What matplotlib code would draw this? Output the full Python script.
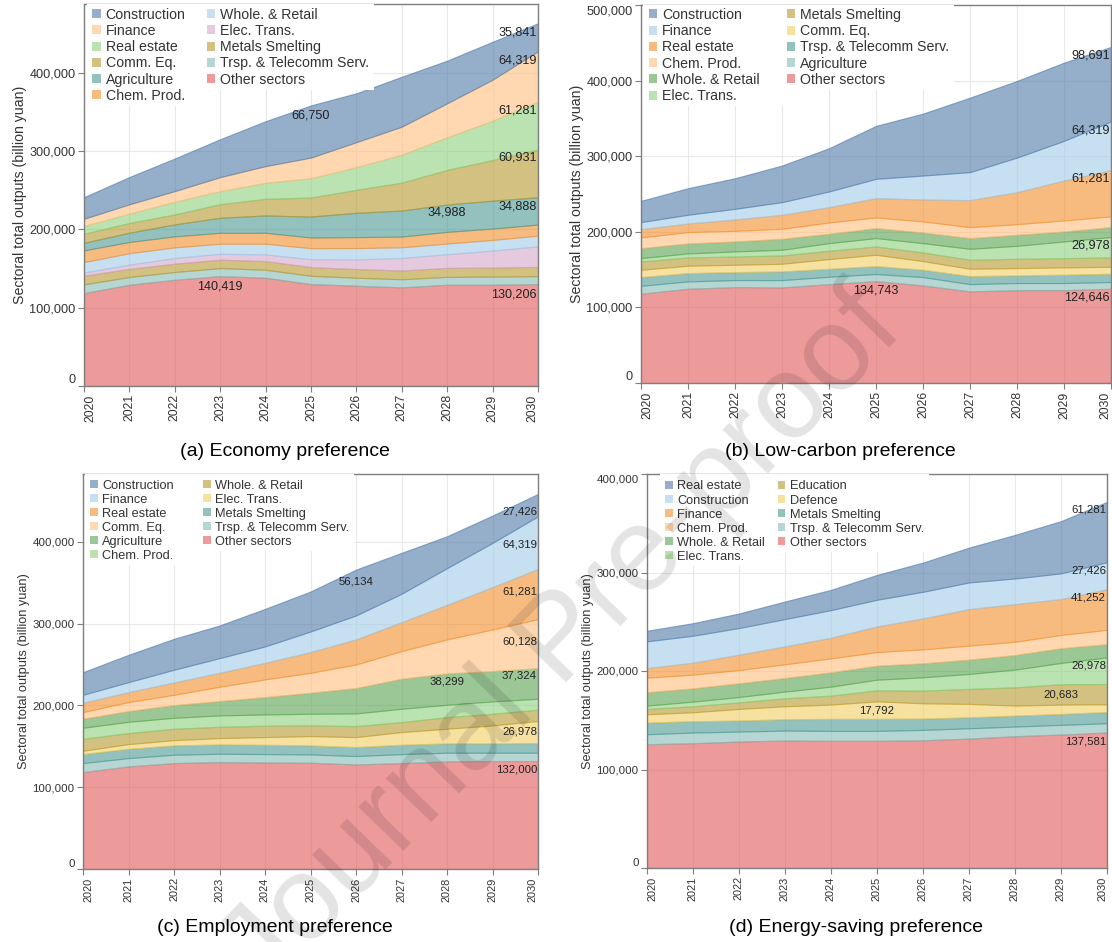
import matplotlib
matplotlib.use("Agg")
import matplotlib.pyplot as plt
from matplotlib.patches import Patch, Rectangle
from matplotlib.transforms import Bbox
from matplotlib.ticker import FuncFormatter
import numpy as np

plt.rcParams['font.family'] = ['Liberation Sans', 'DejaVu Sans']

years = list(range(2020, 2031))

# ---------------- (a) Economy preference (billion yuan) ----------------
eco_sectors = ["Construction", "Finance", "Real estate", "Comm. Eq.", "Agriculture",
               "Chem. Prod.", "Whole. & Retail", "Elec. Trans.", "Metals Smelting",
               "Trsp. & Telecomm Serv.", "Other sectors"]
eco_construction = [27700, 34900, 41700, 48500, 57400, 66750, 62500, 63800, 54500, 48500, 35841]
eco_finance = [9300, 11900, 13600, 17900, 21300, 26400, 31900, 35800, 43400, 52400, 64319]
eco_real_estate = [9800, 11900, 16200, 16600, 20500, 24600, 29000, 35700, 41700, 50200, 61281]
eco_comm_eq = [11500, 12400, 12700, 17400, 21200, 24300, 29300, 35700, 44200, 51900, 60931]
eco_agriculture = [9800, 11900, 15300, 19200, 22200, 26800, 31100, 33200, 34988, 35700, 34888]
eco_chem = [14900, 14400, 14100, 14000, 14000, 13600, 14000, 13700, 14900, 14500, 14100]
eco_retail = [13200, 14500, 13600, 12800, 13600, 14100, 14500, 13600, 13600, 13600, 13600]
eco_elec = [4200, 5500, 7200, 7600, 8500, 10200, 12300, 16100, 17500, 21700, 26400]
eco_metals = [11100, 10300, 10700, 10700, 11100, 11000, 11100, 11100, 11500, 11500, 11900]
eco_transport = [11100, 9900, 9900, 10200, 10200, 10600, 10200, 10400, 10000, 10400, 10000]
eco_other = [118700, 129400, 135700, 140419, 138300, 130200, 128100, 126000, 129400, 129400, 130206]

# ---------------- (b) Low-carbon preference ----------------
lc_sectors = ["Construction", "Finance", "Real estate", "Chem. Prod.", "Whole. & Retail",
              "Elec. Trans.", "Metals Smelting", "Comm. Eq.", "Trsp. & Telecomm Serv.",
              "Agriculture", "Other sectors"]
lc_construction = [28200, 35200, 40500, 48500, 57300, 70100, 82000, 98600, 101400, 103500, 98691]
lc_finance = [9300, 11500, 14100, 16700, 20700, 25500, 31700, 37000, 45800, 52500, 64319]
lc_real_estate = [11000, 11400, 15000, 18500, 20300, 25600, 29000, 35700, 42300, 52800, 61281]
lc_chem = [14100, 15000, 14100, 13300, 14900, 14100, 14600, 14600, 14100, 14600, 14100]
lc_retail = [13200, 13200, 13200, 14500, 12400, 13200, 14100, 14100, 14500, 13200, 13100]
lc_elec = [4400, 5300, 6600, 7500, 10100, 11000, 12300, 14500, 17200, 22000, 26978]
lc_metals = [11000, 11000, 11000, 11000, 11000, 11000, 11500, 11900, 12300, 12300, 12400]
lc_comm_eq = [9700, 9700, 9700, 10100, 12800, 15000, 11400, 9700, 9700, 9700, 9200]
lc_transport = [11500, 11000, 10600, 11500, 10600, 10500, 9700, 10600, 10100, 11000, 11000]
lc_agriculture = [10500, 9700, 9200, 9700, 9700, 9400, 11000, 9700, 9300, 9300, 8900]
lc_other = [118100, 124700, 126900, 126400, 130800, 134743, 129100, 121100, 122900, 122900, 124646]

# ---------------- (c) Employment preference ----------------
em_sectors = ["Construction", "Finance", "Real estate", "Comm. Eq.", "Agriculture",
              "Chem. Prod.", "Whole. & Retail", "Elec. Trans.", "Metals Smelting",
              "Trsp. & Telecomm Serv.", "Other sectors"]
em_construction = [27700, 33400, 37900, 40000, 46000, 48900, 56134, 50100, 39100, 33400, 27426]
em_finance = [9700, 12200, 15500, 17900, 20000, 25200, 29300, 34700, 44800, 54200, 64319]
em_real_estate = [11400, 12200, 15100, 17100, 20300, 25300, 30600, 35400, 42300, 51700, 61281]
em_comm_eq = [8200, 11000, 12600, 17500, 21600, 24400, 28900, 33800, 41600, 50900, 60128]
em_agriculture = [11000, 13100, 15500, 17500, 21200, 25700, 31000, 36700, 38299, 37100, 37324]
em_chem = [13400, 13800, 13400, 13900, 13800, 14200, 15500, 16300, 15100, 15100, 13400]
em_retail = [14700, 13500, 13900, 13800, 13900, 13100, 13400, 12200, 14200, 14200, 13800]
em_elec = [4100, 5700, 6500, 7800, 9400, 11400, 12200, 15500, 17900, 22000, 26978]
em_metals = [11000, 11400, 11400, 11400, 11400, 11000, 11000, 11400, 11400, 11400, 11800]
em_transport = [11000, 10100, 10200, 10100, 10200, 10200, 10200, 11000, 10600, 10200, 10200]
em_other = [118500, 125500, 129500, 130800, 130300, 129900, 127900, 129500, 131600, 132000, 132000]

# ---------------- (d) Energy-saving preference ----------------
es_sectors = ["Real estate", "Construction", "Finance", "Chem. Prod.", "Whole. & Retail",
              "Elec. Trans.", "Education", "Defence", "Metals Smelting",
              "Trsp. & Telecomm Serv.", "Other sectors"]
es_real_estate = [10800, 12800, 14800, 17900, 20600, 25300, 29700, 35400, 44300, 53100, 61281]
es_construction = [27100, 27400, 27000, 27700, 28000, 27000, 27000, 27100, 26000, 26000, 27426]
es_finance = [9800, 12100, 15600, 18200, 21000, 26100, 31400, 37100, 38200, 36500, 41252]
es_chem = [14800, 13900, 13500, 13900, 14200, 13800, 14200, 14200, 13500, 13500, 14500]
es_retail = [13500, 13500, 13900, 13800, 14500, 14200, 14200, 14500, 14800, 14900, 13500]
es_elec = [3400, 4700, 5400, 6800, 9100, 10800, 13500, 15200, 18000, 21600, 26978]
es_education = [5400, 6100, 6700, 8100, 9100, 11200, 12900, 15200, 18500, 20683, 20600]
es_defence = [8500, 9100, 11800, 13200, 14500, 17792, 15500, 13600, 10200, 9500, 7800]
es_metals = [11800, 11500, 11200, 11500, 12200, 12200, 11500, 11100, 11100, 11100, 11400]
es_transport = [10100, 10800, 10100, 10100, 10100, 10100, 10500, 10500, 9800, 9800, 9400]
es_other = [125700, 126700, 128400, 129400, 129100, 129100, 129700, 131400, 133800, 135500, 137581]

captions = ["(a) Economy preference", "(b) Low-carbon preference",
            "(c) Employment preference", "(d) Energy-saving preference"]
y_title = "Sectoral total outputs (billion yuan)"

# Tableau-20 style colours
BLUE, LBLUE = "#4e79a7", "#a0cbe8"
ORANGE, LORANGE = "#f28e2b", "#ffbe7d"
GREEN, LGREEN = "#59a14f", "#8cd17d"
OLIVE, YELLOW = "#b6992d", "#f1ce63"
TEAL, LTEAL = "#499894", "#86bcb6"
RED, LPURPLE = "#e15759", "#d4a6c8"
ALPHA = 0.6

W, H = 1112, 942
fig = plt.figure(figsize=(W / 100, H / 100), dpi=100)


def axes_px(left, top, right, bottom):
    return fig.add_axes([left / W, 1 - bottom / H, (right - left) / W, (bottom - top) / H])


panels = [
    dict(rect=(84, 4, 538, 386), sectors=eco_sectors,
         series=[eco_construction, eco_finance, eco_real_estate, eco_comm_eq, eco_agriculture,
                 eco_chem, eco_retail, eco_elec, eco_metals, eco_transport, eco_other],
         colors=[BLUE, LORANGE, LGREEN, OLIVE, TEAL, ORANGE, LBLUE, LPURPLE, OLIVE, LTEAL, RED],
         ylim=488000, yticks=[0, 100000, 200000, 300000, 400000], scale=1.0,
         colspace=1.5, legx=0.012, legy=0.998,
         labels=[("Construction", 2030, 9), ("Finance", 2030, 9), ("Real estate", 2030, 9),
                 ("Comm. Eq.", 2030, 8), ("Agriculture", 2030, 9), ("Agriculture", 2028, 8),
                 ("Construction", 2025, 10), ("Other sectors", 2023, 10),
                 ("Other sectors", 2030, 10)]),
    dict(rect=(641, 5, 1111, 383), sectors=lc_sectors,
         series=[lc_construction, lc_finance, lc_real_estate, lc_chem, lc_retail, lc_elec,
                 lc_metals, lc_comm_eq, lc_transport, lc_agriculture, lc_other],
         colors=[BLUE, LBLUE, ORANGE, LORANGE, GREEN, LGREEN, OLIVE, YELLOW, TEAL, LTEAL, RED],
         ylim=500000, yticks=[0, 100000, 200000, 300000, 400000, 500000], scale=1.0,
         colspace=1.9, legx=0.010, legy=1.0,
         labels=[("Construction", 2030, 9), ("Finance", 2030, 9), ("Real estate", 2030, 8),
                 ("Elec. Trans.", 2030, 9), ("Other sectors", 2030, 9),
                 ("Other sectors", 2025, 9)]),
    dict(rect=(83, 474, 538, 869), sectors=em_sectors,
         series=[em_construction, em_finance, em_real_estate, em_comm_eq, em_agriculture,
                 em_chem, em_retail, em_elec, em_metals, em_transport, em_other],
         colors=[BLUE, LBLUE, ORANGE, LORANGE, GREEN, LGREEN, OLIVE, YELLOW, TEAL, LTEAL, RED],
         ylim=483000, yticks=[0, 100000, 200000, 300000, 400000], scale=0.9,
         colspace=2.3, legx=0.010, legy=0.992,
         labels=[("Construction", 2030, 18), ("Finance", 2030, 28), ("Real estate", 2030, 23),
                 ("Comm. Eq.", 2030, 22), ("Agriculture", 2030, 7), ("Agriculture", 2028, 8),
                 ("Elec. Trans.", 2030, 11), ("Other sectors", 2030, 8),
                 ("Construction", 2026, 12)]),
    dict(rect=(647, 474, 1107, 868), sectors=es_sectors,
         series=[es_real_estate, es_construction, es_finance, es_chem, es_retail, es_elec,
                 es_education, es_defence, es_metals, es_transport, es_other],
         colors=[BLUE, LBLUE, ORANGE, LORANGE, GREEN, LGREEN, OLIVE, YELLOW, TEAL, LTEAL, RED],
         ylim=400000, yticks=[0, 100000, 200000, 300000, 400000], scale=0.9,
         colspace=1.0, legx=0.034, legy=0.990,
         labels=[("Real estate", 2030, 8), ("Construction", 2030, 8), ("Finance", 2030, 8),
                 ("Elec. Trans.", 2030, 8), ("Education", 2029, 10), ("Defence", 2025, 9),
                 ("Other sectors", 2030, 9)]),
]

caption_pos = [(285, 451), (840, 451), (275, 928), (856, 928)]
TXT = "#333333"
AXC = "#7f7f7f"

legends = []
for p, cap, cpos in zip(panels, captions, caption_pos):
    ax = axes_px(*p["rect"])
    s = p["scale"]
    x = np.array(years)
    base = np.zeros(len(years))
    tops = {}
    for name, vals, col in reversed(list(zip(p["sectors"], p["series"], p["colors"]))):
        top = base + np.asarray(vals, dtype=float)
        ax.fill_between(x, base, top, facecolor=col, edgecolor=col, alpha=ALPHA,
                        linewidth=0.8, zorder=2)
        tops[name] = (top, np.asarray(vals))
        base = top

    ax.set_xlim(2020, 2030)
    ax.set_ylim(0, p["ylim"])
    ax.set_xticks(years)
    ax.set_xticklabels([str(y) for y in years], rotation=90)
    ax.set_yticks(p["yticks"])
    ax.yaxis.set_major_formatter(FuncFormatter(lambda v, _: f"{v:,.0f}"))
    ax.grid(True, color="#e9e9e9", linewidth=0.8, zorder=0)
    ax.set_axisbelow(True)
    for sp in ax.spines.values():
        sp.set_color(AXC)
        sp.set_linewidth(1.0)
        sp.set_zorder(3)
    ax.tick_params(axis="both", direction="out", length=4, color=AXC, colors=TXT,
                   labelsize=9.2 * s, pad=2)
    ax.tick_params(axis="x", labelsize=8.8 * s)
    ax.set_ylabel(y_title, fontsize=10.2 * s, color=TXT, labelpad=2)

    # end tick labels sit inside the axis range
    ylab = ax.get_yticklabels()
    ylab[0].set_verticalalignment("bottom")
    if p["yticks"][-1] == p["ylim"]:
        ylab[-1].set_verticalalignment("top")
    xlab = ax.get_xticklabels()
    xlab[0].set_horizontalalignment("left")
    xlab[-1].set_horizontalalignment("right")

    handles = [Patch(facecolor=c, edgecolor="none", alpha=ALPHA) for c in p["colors"]]
    leg = ax.legend(handles, p["sectors"], loc="upper left",
                    bbox_to_anchor=(p["legx"], p["legy"]), ncol=2, fontsize=10.2 * s,
                    frameon=False, handlelength=0.6, handleheight=0.6, handletextpad=0.35,
                    labelspacing=0.16, columnspacing=p["colspace"], borderpad=0.2,
                    borderaxespad=0.0)
    leg.set_zorder(5)
    for t in leg.get_texts():
        t.set_color(TXT)
    legends.append((ax, leg))

    for name, yr, dy in p["labels"]:
        top, vals = tops[name]
        i = years.index(yr)
        ha = "right" if yr == years[-1] else "center"
        dx = -1 if ha == "right" else 0
        ax.annotate(f"{int(vals[i]):,}", xy=(yr, top[i]), xytext=(dx, -dy),
                    textcoords="offset pixels", ha=ha, va="center",
                    fontsize=9.1 * s, color="#222222", zorder=6)

    fig.text(cpos[0] / W, 1 - cpos[1] / H, cap, fontsize=14, ha="center", va="center",
             color="black")

# white backing behind each legend column (covers grid and areas only where the column is)
fig.canvas.draw()
renderer = fig.canvas.get_renderer()
for ax, leg in legends:
    texts = leg.get_texts()
    hands = leg.legend_handles
    n = len(texts)
    rows = (n + 1) // 2
    inv = ax.transAxes.inverted()
    cols = [range(0, rows), range(rows, n)]
    boxes = []
    for idx in cols:
        bbs = [texts[i].get_window_extent(renderer) for i in idx]
        bbs += [hands[i].get_window_extent(renderer) for i in idx]
        boxes.append(Bbox.union(bbs).transformed(inv))
    x_left = boxes[0].x0 - 0.012
    x_split = boxes[1].x0 - 0.006
    spans = [(x_left, x_split, boxes[0].y0 - 0.008), (x_split, boxes[1].x1 + 0.01,
                                                       boxes[1].y0 - 0.008)]
    for x0, x1, y0 in spans:
        ax.add_patch(Rectangle((x0, y0), x1 - x0, 1.0 - y0, transform=ax.transAxes,
                               facecolor="white", edgecolor="none", zorder=3.5,
                               clip_on=True))

fig.text(563 / W, 1 - 642 / H, "Journal Pre-proof", fontsize=86, rotation=46,
         rotation_mode="anchor", ha="center", va="center", color="black", alpha=0.11,
         zorder=10)

fig.savefig("out.png", dpi=100)
